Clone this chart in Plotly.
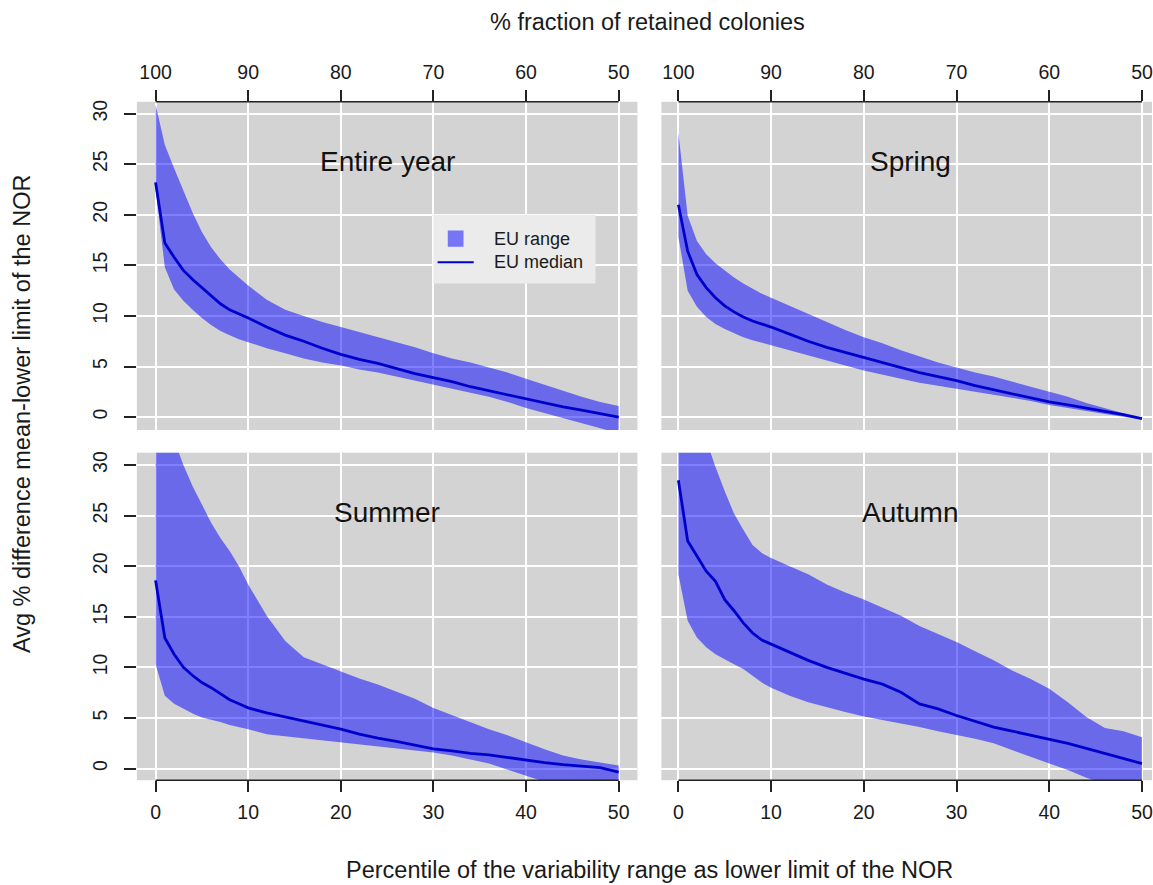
import plotly.graph_objects as go

# Percentile of the variability range used as lower limit of the NOR
percentile = [0, 1, 2, 3, 4, 5, 6, 7, 8, 9, 10, 12, 14, 16, 18, 20, 22, 24, 26, 28,
              30, 32, 34, 36, 38, 40, 42, 44, 46, 48, 50]

# Top axis: % fraction of retained colonies
retained_ticks = [0, 10, 20, 30, 40, 50]
retained_labels = ["100", "90", "80", "70", "60", "50"]
percentile_labels = ["0", "10", "20", "30", "40", "50"]
y_ticks = [0, 5, 10, 15, 20, 25, 30]

entire_median = [23.2, 17.2, 15.8, 14.5, 13.6, 12.8, 12.0, 11.2, 10.6, 10.2, 9.8, 8.9, 8.1, 7.5,
                 6.8, 6.2, 5.7, 5.3, 4.8, 4.3, 3.9, 3.5, 3.0, 2.6, 2.2, 1.8, 1.4, 1.0, 0.7, 0.35, 0.0]
entire_upper = [30.9, 26.9, 24.6, 22.4, 20.2, 18.3, 16.8, 15.6, 14.6, 13.8, 13.0, 11.6, 10.6, 10.0,
                9.4, 8.9, 8.4, 7.9, 7.4, 6.9, 6.3, 5.8, 5.4, 4.9, 4.4, 3.8, 3.2, 2.6, 2.0, 1.5, 1.1]
entire_lower = [22.5, 14.8, 12.6, 11.5, 10.6, 9.8, 9.1, 8.5, 8.1, 7.7, 7.4, 6.8, 6.3, 5.8,
                5.4, 5.1, 4.7, 4.4, 4.0, 3.6, 3.2, 2.8, 2.4, 2.0, 1.5, 0.9, 0.4, -0.1, -0.6, -1.1, -1.6]

spring_median = [21.0, 16.4, 14.1, 12.8, 11.8, 11.0, 10.4, 9.9, 9.5, 9.2, 8.9, 8.2, 7.5, 6.9,
                 6.4, 5.9, 5.4, 4.9, 4.4, 4.0, 3.6, 3.1, 2.7, 2.3, 1.9, 1.5, 1.2, 0.9, 0.6, 0.25, -0.15]
spring_upper = [28.1, 19.9, 17.4, 16.1, 15.2, 14.5, 13.8, 13.2, 12.7, 12.2, 11.8, 11.0, 10.2, 9.4,
                8.6, 7.9, 7.3, 6.6, 6.0, 5.4, 4.9, 4.4, 4.0, 3.5, 3.0, 2.5, 2.0, 1.4, 0.9, 0.4, -0.15]
spring_lower = [17.8, 12.5, 10.9, 9.9, 9.2, 8.7, 8.3, 7.9, 7.6, 7.3, 7.1, 6.6, 6.1, 5.6,
                5.1, 4.6, 4.2, 3.8, 3.4, 3.1, 2.8, 2.5, 2.2, 1.9, 1.6, 1.2, 0.9, 0.6, 0.3, 0.0, -0.25]

summer_median = [18.6, 12.9, 11.3, 10.0, 9.2, 8.5, 8.0, 7.4, 6.8, 6.4, 6.0, 5.5, 5.1, 4.7,
                 4.3, 3.9, 3.4, 3.0, 2.7, 2.3, 1.95, 1.75, 1.5, 1.35, 1.1, 0.8, 0.6, 0.4, 0.25, 0.1, -0.35]
summer_upper = [42.0, 36.0, 32.5, 30.0, 27.9, 26.1, 24.3, 22.8, 21.5, 20.0, 18.2, 15.1, 12.6, 11.0,
                10.3, 9.65, 8.9, 8.3, 7.6, 6.9, 6.0, 5.3, 4.6, 3.9, 3.3, 2.6, 1.9, 1.3, 0.9, 0.6, 0.3]
summer_lower = [10.3, 7.2, 6.4, 5.9, 5.45, 5.05, 4.8, 4.6, 4.3, 4.1, 3.9, 3.4, 3.2, 3.0,
                2.8, 2.6, 2.4, 2.2, 2.0, 1.8, 1.6, 1.3, 0.9, 0.5, -0.1, -0.7, -1.3, -1.8, -2.3, -2.8, -3.3]

autumn_median = [28.5, 22.5, 21.0, 19.5, 18.5, 16.7, 15.6, 14.4, 13.4, 12.7, 12.3, 11.5, 10.7, 10.0,
                 9.4, 8.85, 8.35, 7.55, 6.4, 5.9, 5.25, 4.7, 4.1, 3.7, 3.3, 2.95, 2.5, 2.0, 1.5, 1.05, 0.5]
autumn_upper = [45.0, 40.0, 36.0, 32.5, 29.8, 27.4, 25.2, 23.6, 22.1, 21.3, 20.8, 20.0, 19.2, 18.2,
                17.4, 16.7, 15.9, 15.1, 14.1, 13.3, 12.5, 11.6, 10.7, 9.7, 8.85, 7.9, 6.55, 5.1, 4.0, 3.7, 3.1]
autumn_lower = [19.2, 14.6, 12.95, 12.0, 11.3, 10.8, 10.3, 9.85, 9.2, 8.5, 8.0, 7.2, 6.55, 6.05,
                5.6, 5.15, 4.8, 4.45, 4.1, 3.7, 3.3, 2.95, 2.5, 1.8, 1.15, 0.5, -0.15, -0.9, -1.5, -2.0, -2.5]

panels = [
    ("Entire year", entire_median, entire_lower, entire_upper, "x", "y"),
    ("Spring", spring_median, spring_lower, spring_upper, "x2", "y2"),
    ("Summer", summer_median, summer_lower, summer_upper, "x3", "y3"),
    ("Autumn", autumn_median, autumn_lower, autumn_upper, "x4", "y4"),
]

BAND = "rgba(0,0,255,0.5)"
LINE = "#0000CD"
PANEL_BG = "#D3D3D3"
FONT = "Liberation Sans, Arial, sans-serif"
TEXT = "#1a1a1a"

fig = go.Figure()

for title, med, lo, up, xa, ya in panels:
    fig.add_trace(go.Scatter(
        x=percentile + percentile[::-1], y=up + lo[::-1],
        fill="toself", fillcolor=BAND, line=dict(width=0),
        mode="lines", hoverinfo="skip", showlegend=False, xaxis=xa, yaxis=ya))
    fig.add_trace(go.Scatter(
        x=percentile, y=med, mode="lines", line=dict(color=LINE, width=2.8),
        showlegend=False, xaxis=xa, yaxis=ya))
    fig.add_annotation(x=25, y=25.3, xref=xa, yref=ya, text=title, showarrow=False,
                       font=dict(size=28, color="#111111", family=FONT))

left_dom = [137 / 1153, 638 / 1153]
right_dom = [662 / 1153, 1.0]
top_dom = [1 - 429 / 885, 1 - 100 / 885]
bot_dom = [1 - 780 / 885, 1 - 451.7 / 885]

tick_font = dict(size=19.5, color=TEXT, family=FONT)
common_x = dict(showgrid=True, gridcolor="white", gridwidth=1.5, zeroline=False,
                ticks="outside", ticklen=11, tickwidth=1.5, tickcolor="#222222",
                tickvals=retained_ticks, tickfont=tick_font, showline=False,
                ticklabelstandoff=3, ticklabeloverflow="allow")
common_y = dict(showgrid=True, gridcolor="white", gridwidth=1.5, zeroline=False,
                tickvals=y_ticks, tickfont=tick_font, showline=False)

fig.update_layout(
    xaxis=dict(domain=left_dom, range=[-2.02, 52.03], side="top", anchor="y",
               ticktext=retained_labels, **common_x),
    xaxis2=dict(domain=right_dom, range=[-1.83, 51.08], side="top", anchor="y2",
                ticktext=retained_labels, **common_x),
    xaxis3=dict(domain=left_dom, range=[-2.02, 52.03], side="bottom", anchor="y3",
                ticktext=percentile_labels, **common_x),
    xaxis4=dict(domain=right_dom, range=[-1.83, 51.08], side="bottom", anchor="y4",
                ticktext=percentile_labels, **common_x),
    yaxis=dict(domain=top_dom, range=[-1.28, 31.17], anchor="x", ticks="outside", ticklen=12,
               tickwidth=1.5, tickcolor="#222222", tickangle=-90, ticklabelstandoff=9,
               **common_y),
    yaxis2=dict(domain=top_dom, range=[-1.28, 31.17], anchor="x2", ticks="",
                showticklabels=False, **common_y),
    yaxis3=dict(domain=bot_dom, range=[-1.15, 31.22], anchor="x3", ticks="outside", ticklen=12,
                tickwidth=1.5, tickcolor="#222222", tickangle=-90, ticklabelstandoff=9,
                **common_y),
    yaxis4=dict(domain=bot_dom, range=[-1.15, 31.22], anchor="x4", ticks="",
                showticklabels=False, **common_y),
    plot_bgcolor=PANEL_BG,
    paper_bgcolor="white",
    width=1153, height=885,
    margin=dict(l=0, r=0, t=0, b=0),
    showlegend=False,
    font=dict(family=FONT),
)

# Axis lines spanning only the tick range (top for upper panels, bottom for lower panels)
for xa, ya, yd in [("x", "y", 1), ("x2", "y2", 1), ("x3", "y3", 0), ("x4", "y4", 0)]:
    fig.add_shape(type="line", xref=xa, yref=f"{ya} domain", x0=0, x1=50, y0=yd, y1=yd,
                  line=dict(color="#222222", width=1.5), layer="above")

# Legend box inside the "Entire year" panel
fig.add_shape(type="rect", xref="x", yref="y", x0=30, x1=47.5, y0=13.2, y1=20,
              fillcolor="#EBEBEB", line=dict(width=0), layer="above")
fig.add_shape(type="rect", xref="x", yref="y", x0=31.55, x1=33.25, y0=16.85, y1=18.45,
              fillcolor=BAND, line=dict(width=0), layer="above")
fig.add_shape(type="line", xref="x", yref="y", x0=30.45, x1=34.35, y0=15.3, y1=15.3,
              line=dict(color=LINE, width=2), layer="above")
for label, yv in [("EU range", 17.65), ("EU median", 15.3)]:
    fig.add_annotation(x=36.28, y=yv, xref="x", yref="y", text=label, showarrow=False,
                       xanchor="left", font=dict(size=18, color=TEXT, family=FONT))

# Axis titles
title_font = dict(size=23.5, color=TEXT, family=FONT)
fig.add_annotation(x=648 / 1153, y=1 - 20 / 885, xref="paper", yref="paper",
                   xanchor="center", yanchor="middle",
                   text="% fraction of retained colonies", showarrow=False, font=title_font)
fig.add_annotation(x=650 / 1153, y=1 - 870 / 885, xref="paper", yref="paper",
                   xanchor="center", yanchor="middle",
                   text="Percentile of the variability range as lower limit of the NOR",
                   showarrow=False, font=title_font)
fig.add_annotation(x=22 / 1153, y=1 - 413 / 885, xref="paper", yref="paper",
                   xanchor="center", yanchor="middle",
                   text="Avg % difference mean-lower limit of the NOR", textangle=-90,
                   showarrow=False, font=title_font)

fig.write_html("out.html")
